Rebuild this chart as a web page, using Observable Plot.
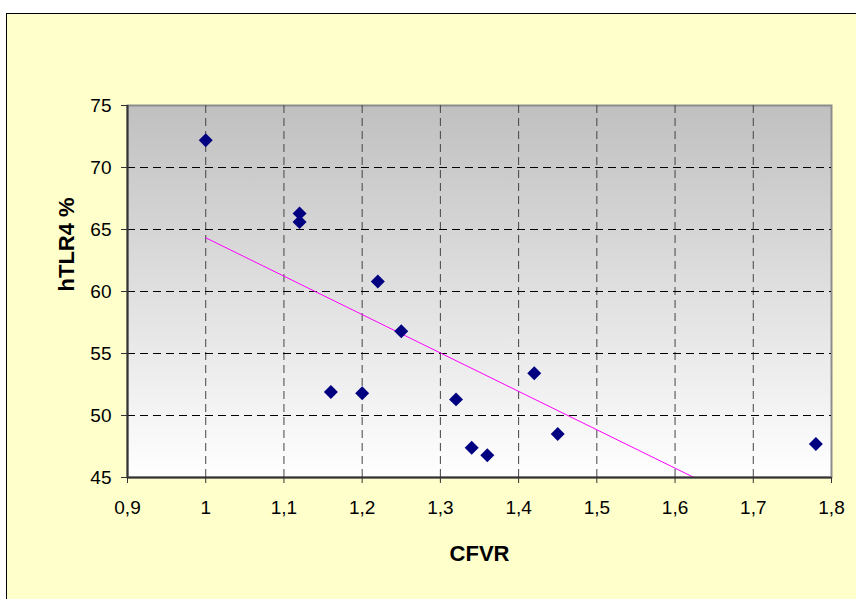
<!DOCTYPE html>
<html>
<head>
<meta charset="utf-8">
<script src="https://cdn.jsdelivr.net/npm/d3@7"></script>
<script src="https://cdn.jsdelivr.net/npm/@observablehq/plot@0.6"></script>
<style>
  body { margin: 0; background: #ffffff; }
  #panel {
    position: absolute; left: 6px; top: 13px; width: 900px; height: 650px;
    background: #FFFFCC; border-left: 1px solid #000; border-top: 1px solid #000;
  }
  #chart { position: absolute; left: 0; top: 0; }
</style>
</head>
<body>
<div id="panel"></div>
<div id="chart"></div>
<script>
// CFVR vs. hTLR4 % per patient
const cfvr  = [1.00, 1.12, 1.12, 1.22, 1.25, 1.16, 1.20, 1.32, 1.34, 1.36, 1.42, 1.45, 1.78];
const htlr4 = [72.2, 66.3, 65.6, 60.8, 56.8, 51.9, 51.8, 51.3, 47.4, 46.8, 53.4, 48.5, 47.7];

const xTicks = [0.9, 1.0, 1.1, 1.2, 1.3, 1.4, 1.5, 1.6, 1.7, 1.8];
const yTicks = [45, 50, 55, 60, 65, 70, 75];
const xTitle = "CFVR";
const yTitle = "hTLR4 %";

const points = cfvr.map((x, i) => ({cfvr: x, htlr4: htlr4[i]}));
const fmtComma = d => String(+d.toFixed(1)).replace(".", ",");

// vertical grey-to-white fill for the plotting area
const backgroundGradient = () => {
  const defs = d3.create("svg:defs");
  const g = defs.append("linearGradient")
    .attr("id", "plotBg").attr("x1", 0).attr("y1", 0).attr("x2", 0).attr("y2", 1);
  g.append("stop").attr("offset", "0%").attr("stop-color", "#C0C0C0");
  g.append("stop").attr("offset", "100%").attr("stop-color", "#FFFFFF");
  return defs.node();
};

const chart = Plot.plot({
  width: 856,
  height: 599,
  marginTop: 105,
  marginRight: 25,
  marginBottom: 122,
  marginLeft: 127,
  style: {background: "transparent", fontFamily: "'Liberation Sans', Arial, sans-serif", color: "#000"},
  x: {type: "linear", domain: [xTicks[0], xTicks[xTicks.length - 1]]},
  y: {type: "linear", domain: [yTicks[0], yTicks[yTicks.length - 1]]},
  marks: [
    backgroundGradient,
    Plot.frame({fill: "url(#plotBg)", stroke: "#8C8C8C", strokeWidth: 2}),
    Plot.gridX(xTicks.slice(1, -1), {stroke: "#444", strokeOpacity: 1, strokeDasharray: "8,5", strokeWidth: 1}),
    Plot.gridY(yTicks.slice(1, -1), {stroke: "#000", strokeOpacity: 1, strokeDasharray: "8,5", strokeWidth: 1}),
    Plot.linearRegressionY(points, {x: "cfvr", y: "htlr4", stroke: "#FF00FF", strokeWidth: 1, ci: 0, clip: true}),
    Plot.ruleX([xTicks[0]], {stroke: "#333", strokeWidth: 2}),
    Plot.ruleY([yTicks[0]], {stroke: "#333", strokeWidth: 2}),
    Plot.dot(points, {x: "cfvr", y: "htlr4", symbol: "diamond2", r: 6.3, fill: "#000080", stroke: "none"}),
    Plot.axisX(xTicks, {tickFormat: fmtComma, tickSize: 6, tickPadding: 17, fontSize: 19, label: null, stroke: "#333"}),
    Plot.axisY(yTicks, {tickSize: 6, tickPadding: 10, fontSize: 19, label: null, stroke: "#333"}),
    Plot.text([xTitle], {text: d => d, frameAnchor: "bottom", dy: 83, lineAnchor: "bottom", fontSize: 22, fontWeight: "bold", fill: "#000"}),
    Plot.text([yTitle], {text: d => d, frameAnchor: "left", dx: -54, rotate: -90, lineAnchor: "bottom", fontSize: 22, fontWeight: "bold", fill: "#000"})
  ]
});

document.getElementById("chart").append(chart);
</script>
</body>
</html>
